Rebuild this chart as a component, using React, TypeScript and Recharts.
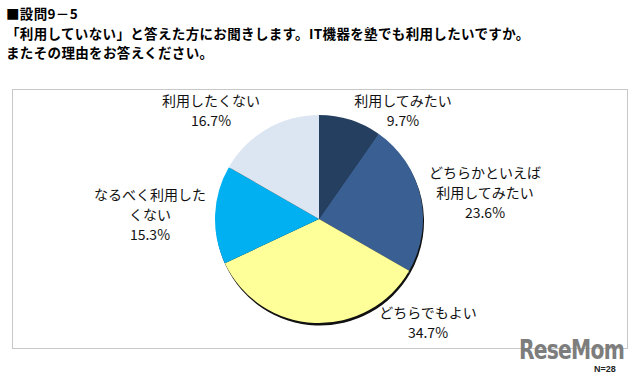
import React from 'react'
import { PieChart, Pie, Cell } from 'recharts'

// ---------------------------------------------------------------------------
// Data — 設問9-5 (N=28)
// ---------------------------------------------------------------------------

const CATEGORIES = [
  '利用してみたい',
  'どちらかといえば\n利用してみたい',
  'どちらでもよい',
  'なるべく利用した\nくない',
  '利用したくない',
]

const SHARES = [9.7, 23.6, 34.7, 15.3, 16.7]

const TITLE_LINES = [
  '■設問9－5',
  '「利用していない」と答えた方にお聞きします。IT機器を塾でも利用したいですか。',
  'またその理由をお答えください。',
]

const SAMPLE_NOTE = 'N=28'

// ---------------------------------------------------------------------------
// Look
// ---------------------------------------------------------------------------

const SLICE_COLORS = ['#243F60', '#3A6093', '#FFFF99', '#00B0F0', '#DCE6F2']

// label block centres, offset from the pie centre (Excel places them by hand)
const LABEL_OFFSETS: [number, number][] = [
  [84, -109],
  [166, -27],
  [109, 103],
  [-169, -5],
  [-108, -109],
]

const FONT = '"Noto Sans CJK JP", "Noto Sans", sans-serif'
const W = 640
const H = 379
const CX = 319
const CY = 219
const R = 104
const LINE_H = 20

const pieData = CATEGORIES.map((name, i) => ({ name, value: SHARES[i] }))

function renderLabel(props: any) {
  const { index, cx, cy } = props
  const [dx, dy] = LABEL_OFFSETS[index]
  const lines = [...CATEGORIES[index].split('\n'), `${SHARES[index].toFixed(1)}%`]
  const top = cy + dy - ((lines.length - 1) * LINE_H) / 2
  return (
    <g key={`lbl-${index}`}>
      {lines.map((t, j) => (
        <text
          key={j}
          x={cx + dx}
          y={top + j * LINE_H}
          textAnchor="middle"
          dominantBaseline="central"
          fontFamily={FONT}
          fontSize={14}
          fill="#111"
        >
          {t}
        </text>
      ))}
    </g>
  )
}

export default function App() {
  return (
    <div
      style={{
        position: 'absolute',
        left: 0,
        top: 0,
        width: W,
        height: H,
        background: '#fff',
        overflow: 'hidden',
        fontFamily: FONT,
      }}
    >
      {TITLE_LINES.map((t, i) => (
        <div
          key={i}
          style={{
            position: 'absolute',
            left: 6,
            top: 4 + i * 19.6,
            fontSize: 13.5,
            lineHeight: '19px',
            fontWeight: 700,
            letterSpacing: 0.35,
            color: '#000',
            whiteSpace: 'nowrap',
          }}
        >
          {t}
        </div>
      ))}

      {/* chart frame */}
      <div
        style={{
          position: 'absolute',
          left: 12,
          top: 89,
          width: 614,
          height: 258,
          border: '1px solid #c8c8c8',
        }}
      />

      <div style={{ position: 'absolute', left: 0, top: 0 }}>
        <PieChart width={W} height={H} margin={{ top: 0, right: 0, bottom: 0, left: 0 }}>
          {/* drop shadow under the pie */}
          <Pie
            data={pieData}
            dataKey="value"
            cx={CX + 1}
            cy={CY + 2.5}
            outerRadius={R}
            startAngle={90}
            endAngle={-270}
            stroke="none"
            fill="#111"
            isAnimationActive={false}
          >
            {pieData.map((_, i) => (
              <Cell key={i} fill="#111" stroke="none" />
            ))}
          </Pie>
          <Pie
            data={pieData}
            dataKey="value"
            nameKey="name"
            cx={CX}
            cy={CY}
            outerRadius={R}
            startAngle={90}
            endAngle={-270}
            stroke="none"
            label={renderLabel}
            labelLine={false}
            isAnimationActive={false}
          >
            {pieData.map((_, i) => (
              <Cell key={i} fill={SLICE_COLORS[i]} stroke="none" />
            ))}
          </Pie>
        </PieChart>
      </div>

      {/* watermark + sample size */}
      <div
        style={{
          position: 'absolute',
          left: 519,
          top: 336,
          fontFamily: '"DejaVu Sans", sans-serif',
          fontWeight: 700,
          fontSize: 26,
          lineHeight: '28px',
          color: '#7d7d7d',
          letterSpacing: -1,
          transform: 'scaleX(0.78)',
          transformOrigin: 'left top',
          whiteSpace: 'nowrap',
        }}
      >
        ReseMom
      </div>
      <div
        style={{
          position: 'absolute',
          left: 594,
          top: 364,
          fontFamily: '"Liberation Sans", sans-serif',
          fontSize: 9,
          lineHeight: '10px',
          fontWeight: 700,
          color: '#222',
        }}
      >
        {SAMPLE_NOTE}
      </div>
    </div>
  )
}
